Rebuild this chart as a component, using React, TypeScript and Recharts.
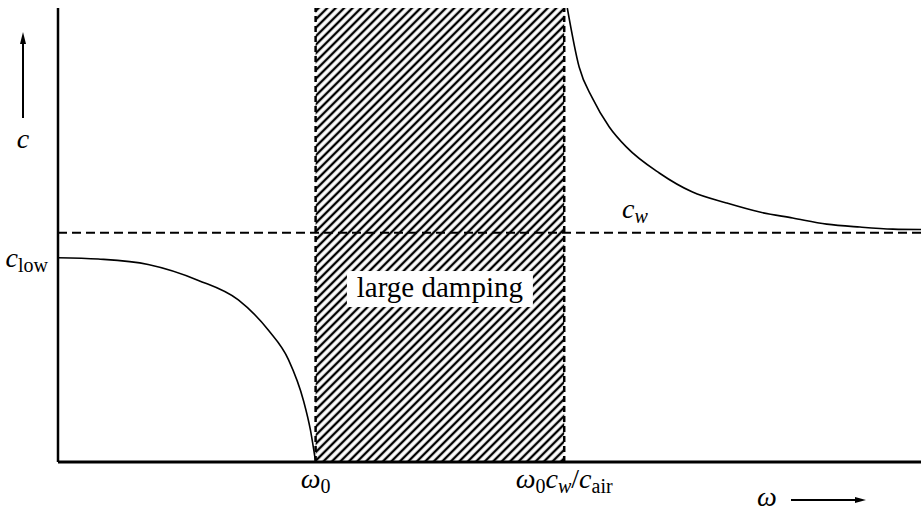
import React from "react";
import {
  ComposedChart,
  Line,
  XAxis,
  YAxis,
  ReferenceArea,
  ReferenceLine,
} from "recharts";

// frequency in units of omega0, phase speed in units of c_w
const omega0 = 1;
const omegaUpper = 1.965; // omega0 * c_w / c_air
const cW = 1.01;
const cLow = 0.9;

// branch below omega0
const lowOmega = [0, 0.156, 0.35, 0.545, 0.7, 0.817, 0.895, 0.953, 0.98, 1.0];
const lowC = [0.9, 0.894, 0.87, 0.8, 0.714, 0.58, 0.45, 0.27, 0.14, 0];

// branch above omega0 c_w / c_air
const highOmega = [
  1.977, 2.023, 2.074, 2.14, 2.206, 2.334, 2.463, 2.595, 2.724, 2.852, 2.984,
  3.113, 3.241, 3.35,
];
const highC = [
  2.0, 1.74, 1.604, 1.476, 1.388, 1.273, 1.189, 1.141, 1.101, 1.075, 1.048,
  1.035, 1.026, 1.024,
];

const lowData = lowOmega.map((w, i) => ({ w, c: lowC[i] }));
const highData = highOmega.map((w, i) => ({ w, c: highC[i] }));

const serif = { fontFamily: "Liberation Serif, DejaVu Serif, serif" };
const SIZE = 28;
const SUB = 20;

const XTick = ({ x, y, payload }: any) => {
  const v = payload.value;
  if (v === omega0) {
    return (
      <text x={x} y={y + 18} textAnchor="middle" style={serif} fontSize={SIZE}>
        <tspan fontStyle="italic">ω</tspan>
        <tspan fontSize={SUB} dy={5}>0</tspan>
      </text>
    );
  }
  return (
    <text x={x} y={y + 18} textAnchor="middle" style={serif} fontSize={SIZE}>
      <tspan fontStyle="italic">ω</tspan>
      <tspan fontSize={SUB} dy={5}>0</tspan>
      <tspan fontStyle="italic" dy={-5}>c</tspan>
      <tspan fontStyle="italic" fontSize={SUB} dy={5}>w</tspan>
      <tspan dy={-5}>/</tspan>
      <tspan fontStyle="italic">c</tspan>
      <tspan fontSize={SUB} dy={5}>air</tspan>
    </text>
  );
};

const YTick = ({ x, y }: any) => (
  <text x={x - 2} y={y + 9} textAnchor="end" style={serif} fontSize={SIZE}>
    <tspan fontStyle="italic">c</tspan>
    <tspan fontSize={SUB} dy={5}>low</tspan>
  </text>
);

const YLabel = () => {
  const ax = 23;
  const top = 32;
  return (
    <g>
      <line x1={ax} y1={top + 10} x2={ax} y2={118} stroke="#000" strokeWidth={2} />
      <polygon points={`${ax - 3},${top + 12} ${ax + 3},${top + 12} ${ax},${top}`} fill="#000" />
      <text x={ax} y={148} textAnchor="middle" style={serif} fontSize={SIZE} fontStyle="italic">
        c
      </text>
    </g>
  );
};

const XLabel = () => {
  const ay = 500;
  return (
    <g>
      <text x={767} y={ay + 6} textAnchor="middle" style={serif} fontSize={SIZE} fontStyle="italic">
        ω
      </text>
      <line x1={791} y1={ay} x2={856} y2={ay} stroke="#000" strokeWidth={1.8} />
      <polygon points={`${855},${ay - 3} ${855},${ay + 3} ${866},${ay}`} fill="#000" />
    </g>
  );
};

const DampingLabel = ({ viewBox }: any) => {
  const cx = viewBox.x + viewBox.width / 2;
  const cy = viewBox.y + viewBox.height * 0.619;
  return (
    <g>
      <rect x={cx - 93} y={cy - 18} width={186} height={36} fill="#fff" />
      <text x={cx} y={cy + 8} textAnchor="middle" style={serif} fontSize={29}>
        large damping
      </text>
    </g>
  );
};

const CwLabel = () => (
  <text x={622} y={218} style={serif} fontSize={SIZE} fontStyle="italic">
    c<tspan fontSize={SUB} dy={5}>w</tspan>
  </text>
);

export default function App() {
  return (
    <div
      style={{
        position: "absolute",
        left: 0,
        top: 0,
        width: 921,
        height: 514,
        background: "#fff",
      }}
    >
      <ComposedChart
        width={921}
        height={514}
        margin={{ top: 8, right: 0, bottom: 0, left: 0 }}
      >
        <defs>
          <pattern
            id="hatch"
            patternUnits="userSpaceOnUse"
            width={6}
            height={6}
            patternTransform="rotate(45)"
          >
            <line x1={3} y1={0} x2={3} y2={6} stroke="#000" strokeWidth={2.4} />
          </pattern>
        </defs>
        <XAxis
          type="number"
          dataKey="w"
          domain={[0, 3.35]}
          allowDataOverflow
          ticks={[omega0, omegaUpper]}
          tick={<XTick />}
          tickLine={false}
          height={52}
          axisLine={{ stroke: "#000", strokeWidth: 3 }}
          label={{ content: <XLabel /> }}
        />
        <YAxis
          type="number"
          domain={[0, 2]}
          allowDataOverflow
          ticks={[cLow]}
          tick={<YTick />}
          tickLine={false}
          width={58}
          axisLine={{ stroke: "#000", strokeWidth: 2.5 }}
          label={{ content: <YLabel /> }}
        />
        <ReferenceArea
          x1={omega0}
          x2={omegaUpper}
          fill="url(#hatch)"
          fillOpacity={1}
          stroke="none"
          label={{ content: (p: any) => <DampingLabel {...p} /> }}
        />
        <ReferenceLine x={omega0} stroke="#000" strokeWidth={2.5} strokeDasharray="6 4" />
        <ReferenceLine x={omegaUpper} stroke="#000" strokeWidth={2.5} strokeDasharray="6 4" />
        <ReferenceLine
          y={cW}
          stroke="#000"
          strokeWidth={2}
          strokeDasharray="9 5"
          label={{ content: <CwLabel /> }}
        />
        <Line
          data={lowData}
          dataKey="c"
          type="monotone"
          stroke="#000"
          strokeWidth={1.6}
          dot={false}
          isAnimationActive={false}
        />
        <Line
          data={highData}
          dataKey="c"
          type="monotone"
          stroke="#000"
          strokeWidth={1.6}
          dot={false}
          isAnimationActive={false}
        />
      </ComposedChart>
    </div>
  );
}
